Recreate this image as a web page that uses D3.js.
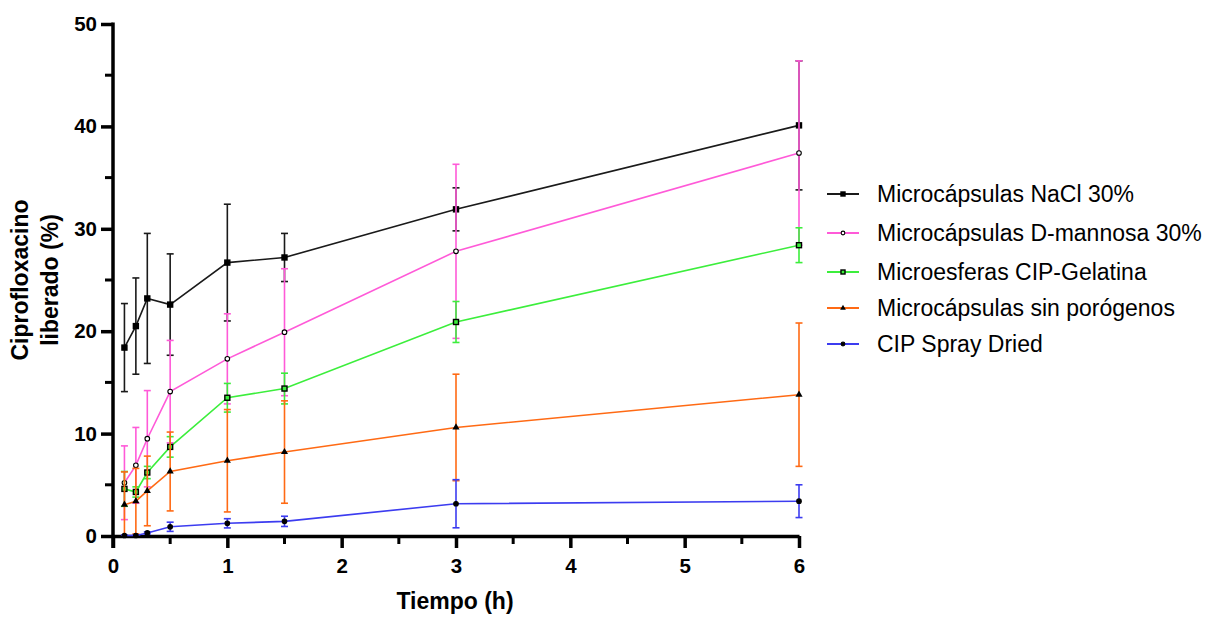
<!DOCTYPE html>
<html>
<head>
<meta charset="utf-8">
<script src="https://cdn.jsdelivr.net/npm/d3@7"></script>
<style>
  body { margin: 0; background: #fff; }
  svg { display: block; font-family: Arial, "Liberation Sans", sans-serif; }
</style>
</head>
<body>
<div id="chart"></div>
<script>
// tiempos de muestreo (h)
const tiempo = [0.1, 0.2, 0.3, 0.5, 1, 1.5, 3, 6];

const naclMean = [18.4, 20.5, 23.2, 22.6, 26.7, 27.2, 31.9, 40.1];
const naclSd = [4.3, 4.7, 6.35, 4.95, 5.7, 2.35, 2.1, 6.3];

const mannosaMean = [5.2, 6.9, 9.5, 14.1, 17.3, 19.9, 27.8, 37.4];
const mannosaSd = [3.6, 3.7, 4.7, 5.0, 4.4, 6.2, 8.5, 9.0];

const gelatinaMean = [4.6, 4.3, 6.2, 8.7, 13.5, 14.4, 20.9, 28.4];
const gelatinaSd = [1.7, 0.5, 0.6, 1.0, 1.4, 1.5, 2.0, 1.7];

const sinPorogMean = [3.06, 3.4, 4.4, 6.3, 7.35, 8.2, 10.6, 13.8];
const sinPorogSd = [3.2, 3.2, 3.4, 3.85, 5.0, 5.0, 5.2, 7.0];

const sprayMean = [0.05, 0.05, 0.3, 0.9, 1.24, 1.43, 3.15, 3.4];
const spraySd = [0.05, 0.05, 0.1, 0.45, 0.45, 0.5, 2.35, 1.6];

const seriesNames = ["Microcápsulas NaCl 30%", "Microcápsulas D-mannosa 30%", "Microesferas CIP-Gelatina", "Microcápsulas sin porógenos", "CIP Spray Dried"];

const xTicks = [0, 1, 2, 3, 4, 5, 6];
const yTicks = [0, 10, 20, 30, 40, 50];

const series = [
    {name: seriesNames[0], mean: naclMean, sd: naclSd, color: "#1a1a1a", marker: "square", fill: "#000"},
    {name: seriesNames[1], mean: mannosaMean, sd: mannosaSd, color: "#ff5ad8", marker: "circle", fill: "none"},
    {name: seriesNames[2], mean: gelatinaMean, sd: gelatinaSd, color: "#3cee3c", marker: "square", fill: "none"},
    {name: seriesNames[3], mean: sinPorogMean, sd: sinPorogSd, color: "#ff6a14", marker: "triangle", fill: "#000"},
    {name: seriesNames[4], mean: sprayMean, sd: spraySd, color: "#3c3cf0", marker: "circle", fill: "#000"},
];

const width = 1220, height = 618;
const svg = d3.select("#chart").append("svg")
    .attr("width", width)
    .attr("height", height);

const x = d3.scaleLinear().domain([0, 6]).range([113, 799]);
const y = d3.scaleLinear().domain([0, 50]).range([536, 24]);

// ejes
const xAxis = svg.append("g")
    .attr("transform", "translate(0," + y(0) + ")")
    .call(d3.axisBottom(x).tickValues(xTicks).tickSize(12).tickSizeOuter(0).tickPadding(10).tickFormat(d3.format("d")));
xAxis.append("g").selectAll("line")
    .data(d3.range(0.5, 6, 1))
    .join("line")
    .attr("x1", d => x(d)).attr("x2", d => x(d))
    .attr("y1", 0).attr("y2", 8)
    .attr("stroke", "#000").attr("stroke-width", 3);

const yAxis = svg.append("g")
    .attr("transform", "translate(" + x(0) + ",0)")
    .call(d3.axisLeft(y).tickValues(yTicks).tickSize(12).tickSizeOuter(0).tickPadding(4));
yAxis.append("g").selectAll("line")
    .data(d3.range(5, 50, 10))
    .join("line")
    .attr("x1", 0).attr("x2", -8)
    .attr("y1", d => y(d)).attr("y2", d => y(d))
    .attr("stroke", "#000").attr("stroke-width", 3);

svg.selectAll(".domain").attr("stroke", "#000").attr("stroke-width", 3.5);
svg.selectAll(".tick line").attr("stroke", "#000").attr("stroke-width", 3.5);
svg.selectAll(".tick text")
    .attr("fill", "#000")
    .style("font-size", "20.5px")
    .style("font-weight", "bold");
yAxis.select(".domain").attr("d", "M0," + (y(50) - 1.5) + "V" + (y(0) + 12));

// titulos
svg.append("text")
    .attr("x", x(3) - 1).attr("y", 609)
    .attr("text-anchor", "middle")
    .style("font-size", "23px").style("font-weight", "bold")
    .text("Tiempo (h)");

const yTitle = svg.append("text")
    .attr("transform", "translate(28,280) rotate(-90)")
    .attr("text-anchor", "middle")
    .style("font-size", "23px").style("font-weight", "bold");
yTitle.append("tspan").attr("x", 0).attr("y", 0).text("Ciprofloxacino");
yTitle.append("tspan").attr("x", 0).attr("y", 30).text("liberado (%)");

function drawMarker(g, s, cx, cy, k = 1) {
    if (s.marker === "square") {
        g.append("rect")
            .attr("x", cx - 2.5 * k).attr("y", cy - 2.5 * k)
            .attr("width", 5 * k).attr("height", 5 * k)
            .attr("fill", s.fill === "none" ? s.color : s.fill)
            .attr("stroke", "#000").attr("stroke-width", 1.4);
    } else if (s.marker === "circle") {
        g.append("circle")
            .attr("cx", cx).attr("cy", cy).attr("r", 2.3 * k)
            .attr("fill", s.fill === "none" ? "#fff" : s.fill)
            .attr("stroke", "#000").attr("stroke-width", 1.1);
    } else {
        g.append("path")
            .attr("d", d3.symbol(d3.symbolTriangle, 22 * k * k)())
            .attr("transform", "translate(" + cx + "," + cy + ")")
            .attr("fill", "#000");
    }
}

const line = d3.line()
    .x(d => x(d[0]))
    .y(d => y(d[1]));

series.forEach(s => {
    const g = svg.append("g");
    const pts = tiempo.map((t, i) => [t, s.mean[i], s.sd[i]]);

    // barras de error
    const eb = g.append("g").attr("stroke", s.color).attr("stroke-width", 1.6);
    pts.forEach(p => {
        const hi = p[1] + p[2];
        const lo = Math.max(0, p[1] - p[2]);
        eb.append("line").attr("x1", x(p[0])).attr("x2", x(p[0])).attr("y1", y(hi)).attr("y2", y(lo));
        eb.append("line").attr("x1", x(p[0]) - 3.5).attr("x2", x(p[0]) + 3.5).attr("y1", y(hi)).attr("y2", y(hi));
        if (p[1] - p[2] > 0) {
            eb.append("line").attr("x1", x(p[0]) - 3.5).attr("x2", x(p[0]) + 3.5).attr("y1", y(lo)).attr("y2", y(lo));
        }
    });

    g.append("path")
        .datum(pts)
        .attr("d", line)
        .attr("fill", "none")
        .attr("stroke", s.color)
        .attr("stroke-width", 1.6);

    pts.forEach(p => drawMarker(g, s, x(p[0]), y(p[1])));
});

// leyenda
const legend = svg.append("g");
const rowY = [194, 233, 272, 308, 344];
series.forEach((s, i) => {
    const row = legend.append("g");
    row.append("line")
        .attr("x1", 827).attr("x2", 859)
        .attr("y1", rowY[i]).attr("y2", rowY[i])
        .attr("stroke", s.color).attr("stroke-width", 2);
    drawMarker(row, s, 843, rowY[i], 0.8);
    row.append("text")
        .attr("x", 877).attr("y", rowY[i])
        .attr("dy", "0.36em")
        .style("font-size", "23px")
        .attr("fill", "#000")
        .text(s.name);
});
</script>
</body>
</html>
